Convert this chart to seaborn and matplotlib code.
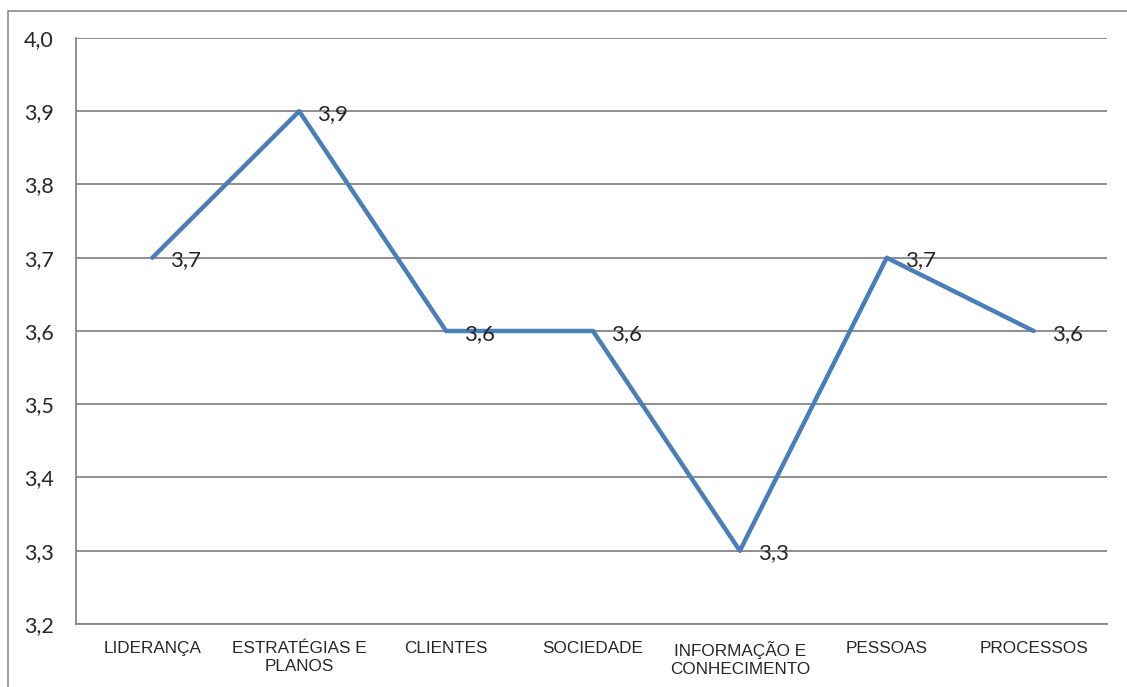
import pandas as pd
import matplotlib.pyplot as plt
import matplotlib.patches as mpatches
import seaborn as sns

# chart data
categories = ["LIDERANÇA", "ESTRATÉGIAS E\nPLANOS", "CLIENTES", "SOCIEDADE",
              "INFORMAÇÃO E\nCONHECIMENTO", "PESSOAS", "PROCESSOS"]
scores = [3.7, 3.9, 3.6, 3.6, 3.3, 3.7, 3.6]
y_ticks = [3.2, 3.3, 3.4, 3.5, 3.6, 3.7, 3.8, 3.9, 4.0]

df = pd.DataFrame({"categoria": categories, "media": scores})
df["pos"] = range(len(categories))

sns.set_style("white")
plt.rcParams['font.family'] = ['Liberation Sans', 'DejaVu Sans']

fig = plt.figure(figsize=(11.27, 6.87), dpi=100)
ax = fig.add_axes([0.0674, 0.0917, 0.9149, 0.853])

# outer frame of the chart area
fig.patches.append(mpatches.Rectangle((8 / 1127, -0.05), 1.2, 1 - 11 / 687 + 0.05,
                                      transform=fig.transFigure, fill=False,
                                      edgecolor="#8c8c8c", linewidth=1.2))

sns.lineplot(data=df, x="pos", y="media", ax=ax, color="#4a7ebb",
             linewidth=3.2, sort=False, legend=False)

# data labels
for x, v in zip(df["pos"], df["media"]):
    ax.annotate(f"{v:.1f}".replace(".", ","), (x, v), xytext=(13, -2),
                textcoords="offset points", ha="left", va="center",
                fontsize=16, family=["Lato", "DejaVu Sans"])

ax.set_xlim(-0.52, len(categories) - 0.5)
ax.set_ylim(3.2, 4.0)
ax.set_yticks(y_ticks)
ax.set_yticklabels([f"{t:.1f}".replace(".", ",") for t in y_ticks],
                   fontsize=15.5, family=["Lato", "DejaVu Sans"])
ax.set_xticks(df["pos"])
ax.set_xticklabels(categories, fontsize=12.3, linespacing=1.3)
ax.tick_params(axis="y", length=0, pad=16)
ax.tick_params(axis="x", length=0, pad=12)

ax.grid(axis="y", color="#868686", linewidth=1.3)
ax.set_axisbelow(True)
for side in ["top", "right"]:
    ax.spines[side].set_visible(False)
for side in ["left", "bottom"]:
    ax.spines[side].set_color("#868686")
    ax.spines[side].set_linewidth(1.3)

ax.set_xlabel("")
ax.set_ylabel("")

fig.savefig("out.png", dpi=100)
